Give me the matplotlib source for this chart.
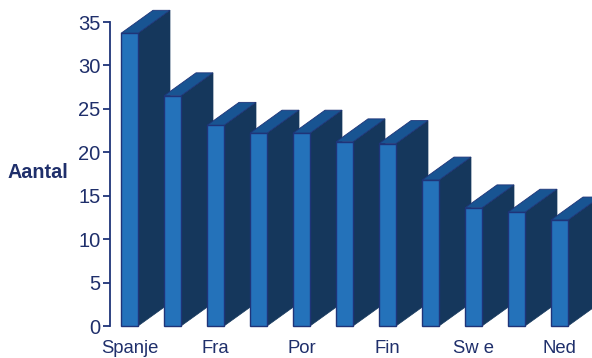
import numpy as np
import matplotlib
matplotlib.use('Agg')
import matplotlib.pyplot as plt

labels = ['Spanje', '', 'Fra', '', 'Por', '', 'Fin', '', 'Sw e', '', 'Ned']
values = [33.7, 26.5, 23.1, 22.2, 22.2, 21.2, 21.0, 16.8, 13.6, 13.1, 12.2]
yticks = [0, 5, 10, 15, 20, 25, 30, 35]

front_col = '#2472BA'
side_col = '#15375C'
top_col = '#185492'
edge_col = '#1F3478'
text_col = '#1F2F6B'

plt.rcParams['font.family'] = ['Liberation Sans', 'DejaVu Sans']

W, H = 592, 358
fig = plt.figure(figsize=(W / 100, H / 100), dpi=100)
ax = fig.add_axes([110 / W, (H - 326) / H, (W - 110) / W, 326 / H])

# one category is 43 px wide, one unit of y is 8.69 px
step = 43.0
unit = 304 / 35
ax.set_xlim(-19.5 / step, (W - 129.5) / step)
ax.set_ylim(0, 326 / unit)

bar_w = 17 / step
dx = 32 / step
dy = 23 / unit

for i, v in enumerate(values):
    x0 = i - bar_w / 2
    x1 = i + bar_w / 2
    # side and top first, the front face goes over them
    ax.fill([x1, x1 + dx, x1 + dx, x1], [0, dy, v + dy, v],
            facecolor=side_col, edgecolor=side_col, lw=0.5, zorder=2 + i * 0.01)
    ax.fill([x0, x0 + dx, x1 + dx, x1], [v, v + dy, v + dy, v],
            facecolor=top_col, edgecolor=edge_col, lw=0.6, zorder=2 + i * 0.01)
    ax.bar(i, v, width=bar_w, color=front_col, edgecolor=edge_col, lw=1.0,
           zorder=2 + i * 0.01, clip_on=False)

for s in ['top', 'right', 'bottom']:
    ax.spines[s].set_visible(False)
ax.spines['left'].set_color(edge_col)
ax.spines['left'].set_linewidth(1.3)
ax.spines['left'].set_bounds(0, 35)
ax.patch.set_alpha(0)

ax.set_yticks(yticks)
ax.tick_params(axis='y', length=5, width=1.3, color=edge_col, labelcolor=text_col,
               labelsize=14.5, pad=2)
ax.set_xticks(range(len(labels)))
ax.set_xticklabels(labels)
ax.tick_params(axis='x', length=0, labelcolor=text_col, labelsize=13.3, pad=10)

fig.text(8 / W, 1 - 172 / H, 'Aantal', color=text_col, fontsize=14.2,
         fontweight='bold', ha='left', va='center')

fig.savefig('out.png', dpi=100)
